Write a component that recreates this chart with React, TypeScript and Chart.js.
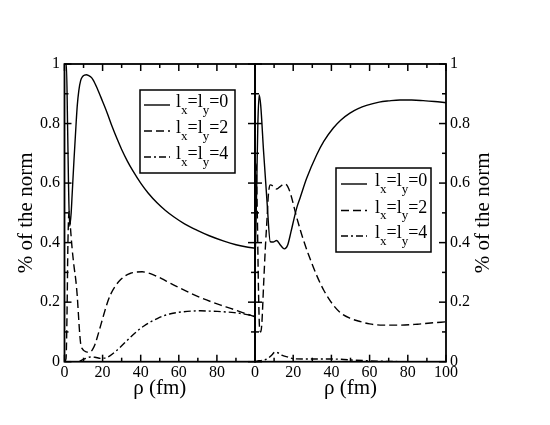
import { useEffect, useRef } from "react";
import Chart from "chart.js/auto";

// axes
const rhoTicks = [0, 20, 40, 60, 80, 100];
const rhoMinor = [10, 30, 50, 70, 90];
const normTicks = [0, 0.2, 0.4, 0.6, 0.8, 1];
const normMinor = [0.1, 0.3, 0.5, 0.7, 0.9];
const lValues = [0, 2, 4];

// left panel
const leftRho0 = [0, 1, 1.6, 2.1, 2.7, 3.5, 4, 5, 6, 6.7, 7.5, 8.5, 9.5, 10.5, 11.5, 12.5, 13.7, 15, 17.2, 20, 22.5, 25, 27.7, 30, 33, 36, 40, 44, 48.7, 53, 57.5, 63, 69.7, 76, 83.7, 90, 95, 100];
const leftNorm0 = [1.0, 1.0, 0.8, 0.6, 0.455, 0.5, 0.56, 0.68, 0.79, 0.86, 0.91, 0.945, 0.958, 0.963, 0.964, 0.962, 0.957, 0.947, 0.918, 0.874, 0.834, 0.79, 0.747, 0.713, 0.674, 0.64, 0.6, 0.566, 0.533, 0.508, 0.486, 0.463, 0.441, 0.423, 0.405, 0.393, 0.386, 0.381];
const leftRho2 = [0, 0.8, 1.3, 1.8, 2.4, 3, 4, 5, 6, 6.7, 7.3, 7.8, 8.5, 9.5, 10.5, 12, 13.5, 14.6, 16, 17.2, 19, 20.7, 22.5, 24.2, 27, 29.5, 32, 34.7, 37.5, 40.8, 44, 47, 51, 55.7, 61, 66.2, 71.5, 76.7, 82, 87.2, 93.5, 100];
const leftNorm2 = [0, 0.01, 0.15, 0.4, 0.505, 0.46, 0.38, 0.32, 0.27, 0.22, 0.16, 0.11, 0.06, 0.042, 0.036, 0.032, 0.033, 0.04, 0.058, 0.082, 0.122, 0.16, 0.198, 0.226, 0.257, 0.276, 0.289, 0.297, 0.301, 0.302, 0.298, 0.291, 0.279, 0.263, 0.246, 0.23, 0.215, 0.202, 0.19, 0.179, 0.165, 0.151];
const leftRho4 = [0, 5, 8, 9.3, 11.5, 13.7, 16, 19, 21, 23.4, 26.5, 29.5, 32, 34.7, 38, 41.7, 45, 48.7, 52, 55.7, 59, 62.7, 67, 71.5, 76, 80.2, 85, 89, 94.5, 100];
const leftNorm4 = [0, 0, 0.002, 0.006, 0.012, 0.016, 0.015, 0.011, 0.012, 0.018, 0.033, 0.05, 0.066, 0.083, 0.102, 0.12, 0.133, 0.145, 0.154, 0.161, 0.165, 0.168, 0.17, 0.171, 0.17, 0.169, 0.167, 0.165, 0.16, 0.153];

// right panel
const rightRho0 = [0, 0.5, 1, 1.5, 2.2, 3, 4.5, 6.3, 8, 9.5, 11.3, 13.5, 15.4, 17, 18.8, 20.6, 22, 23.6, 27, 32.3, 36, 41, 45, 49.7, 54, 58.4, 65, 70, 75.9, 82, 88, 94, 100];
const rightNorm0 = [0.336, 0.45, 0.63, 0.8, 0.896, 0.86, 0.705, 0.537, 0.403, 0.402, 0.407, 0.39, 0.379, 0.39, 0.435, 0.485, 0.52, 0.55, 0.615, 0.695, 0.74, 0.785, 0.812, 0.835, 0.85, 0.861, 0.872, 0.876, 0.879, 0.879, 0.877, 0.874, 0.87];
const rightRho2 = [0, 0.6, 1.2, 1.8, 2.4, 3, 3.6, 4.5, 5.4, 6.3, 7, 8, 9.5, 11.3, 13.5, 15.4, 17, 18.8, 21.4, 23.6, 25.3, 28, 32.3, 36, 41, 45, 49.7, 55, 60, 67, 75.9, 85, 92, 100];
const rightNorm2 = [0.667, 0.66, 0.5, 0.25, 0.112, 0.1, 0.13, 0.258, 0.38, 0.48, 0.56, 0.594, 0.59, 0.58, 0.59, 0.597, 0.59, 0.56, 0.495, 0.445, 0.41, 0.36, 0.29, 0.24, 0.19, 0.163, 0.146, 0.135, 0.127, 0.123, 0.123, 0.126, 0.13, 0.134];
const rightRho4 = [0, 2, 4.4, 7, 8.7, 10.5, 12, 14, 17.5, 20, 30, 40, 45, 52, 60, 70, 80, 100];
const rightNorm4 = [0, 0.003, 0.005, 0.012, 0.022, 0.032, 0.03, 0.022, 0.015, 0.01, 0.009, 0.009, 0.008, 0.005, 0.003, 0.001, 0, 0];

const SERIF = "'Liberation Serif', 'Times New Roman', serif";
const PAGE_W = 550;
const PAGE_H = 425;
const PLOT_TOP = 64;
const PLOT_BOTTOM = 361.7;
const PLOT_LEFT = 64.5;
const PLOT_SPLIT = 255;
const PLOT_RIGHT = 446;
const YTITLE = "% of the norm";

const dashes = [[], [8, 4], [7, 3, 2, 3]];

interface LegendBox {
  x: number;
  y: number;
  w: number;
  h: number;
  rows: number[];
  sampleX: number;
  textX: number;
}

interface PanelProps {
  side: "left" | "right";
  canvasLeft: number;
  canvasWidth: number;
  rhos: number[][];
  norms: number[][];
  legend: LegendBox;
}

const Panel: React.FC<PanelProps> = ({ side, canvasLeft, canvasWidth, rhos, norms, legend }) => {
  const canvasRef = useRef<HTMLCanvasElement>(null);
  const chartRef = useRef<Chart | null>(null);

  useEffect(() => {
    if (!canvasRef.current) return;
    if (chartRef.current) chartRef.current.destroy();

    // ticks pointing inward on all four sides + frame
    const frameTicks = {
      id: "frameTicks",
      afterDatasetsDraw(chart: any) {
        const { ctx, chartArea: a, scales } = chart;
        ctx.save();
        ctx.strokeStyle = "#000";
        ctx.setLineDash([]);
        ctx.lineWidth = 1.5;
        const seg = (x1: number, y1: number, x2: number, y2: number) => {
          ctx.beginPath();
          ctx.moveTo(x1, y1);
          ctx.lineTo(x2, y2);
          ctx.stroke();
        };
        const xs = [...rhoTicks.map((v) => [v, 7]), ...rhoMinor.map((v) => [v, 4])];
        xs.forEach(([v, len]) => {
          const px = scales.x.getPixelForValue(v);
          seg(px, a.bottom, px, a.bottom - len);
          seg(px, a.top, px, a.top + len);
        });
        const ys = [...normTicks.map((v) => [v, 7]), ...normMinor.map((v) => [v, 4])];
        ys.forEach(([v, len]) => {
          const py = scales.y.getPixelForValue(v);
          seg(a.left, py, a.left + len, py);
          seg(a.right, py, a.right - len, py);
        });
        ctx.lineWidth = 1.8;
        ctx.strokeRect(a.left, a.top, a.right - a.left, a.bottom - a.top);
        ctx.restore();
      },
    };

    const legendPlugin = {
      id: "panelLegend",
      afterDraw(chart: any) {
        const { ctx } = chart;
        const bx = legend.x - canvasLeft;
        ctx.save();
        ctx.fillStyle = "#fff";
        ctx.fillRect(bx, legend.y, legend.w, legend.h);
        ctx.strokeStyle = "#000";
        ctx.lineWidth = 1.5;
        ctx.setLineDash([]);
        ctx.strokeRect(bx, legend.y, legend.w, legend.h);
        chart.data.datasets.forEach((ds: any, i: number) => {
          const y = legend.rows[i];
          ctx.lineWidth = 1.4;
          ctx.setLineDash(ds.borderDash || []);
          ctx.beginPath();
          ctx.moveTo(legend.sampleX - canvasLeft, y);
          ctx.lineTo(legend.sampleX - canvasLeft + 26, y);
          ctx.stroke();
          ctx.setLineDash([]);
          ctx.fillStyle = "#000";
          ctx.textBaseline = "alphabetic";
          ctx.textAlign = "left";
          const parts: [string, boolean][] = [
            ["l", false],
            ["x", true],
            ["=l", false],
            ["y", true],
            ["=" + lValues[i], false],
          ];
          let x = legend.textX - canvasLeft;
          parts.forEach(([t, sub]) => {
            ctx.font = sub ? `13px ${SERIF}` : `18px ${SERIF}`;
            ctx.fillText(t, x, sub ? y + 8.5 : y + 2);
            x += ctx.measureText(t).width;
          });
        });
        ctx.restore();
      },
    };

    // right-hand y title reads bottom-to-top like the left one
    const rightTitle = {
      id: "rightTitle",
      afterDraw(chart: any) {
        if (side !== "right") return;
        const { ctx } = chart;
        ctx.save();
        ctx.translate(483.4 - canvasLeft, (PLOT_TOP + PLOT_BOTTOM) / 2);
        ctx.rotate(-Math.PI / 2);
        ctx.font = `21px ${SERIF}`;
        ctx.fillStyle = "#000";
        ctx.textAlign = "center";
        ctx.textBaseline = "middle";
        ctx.fillText(YTITLE, 0, 0);
        ctx.restore();
      },
    };

    const tickFont = { family: SERIF, size: 16 };
    const titleFont = { family: SERIF, size: 21 };

    chartRef.current = new Chart(canvasRef.current, {
      type: "line",
      data: {
        datasets: rhos.map((r, i) => ({
          label: `lx=ly=${lValues[i]}`,
          data: r.map((v, j) => ({ x: v, y: norms[i][j] })),
          borderColor: "#000",
          borderWidth: 1.4,
          borderDash: dashes[i],
          pointRadius: 0,
          fill: false,
          cubicInterpolationMode: "monotone" as const,
        })),
      },
      options: {
        responsive: false,
        animation: false,
        layout: {
          padding:
            side === "left"
              ? { top: PLOT_TOP, left: 0, right: canvasWidth - PLOT_SPLIT, bottom: 0 }
              : { top: PLOT_TOP, left: PLOT_SPLIT - canvasLeft, right: 0, bottom: 0 },
        },
        plugins: { legend: { display: false }, tooltip: { enabled: false } },
        scales: {
          x: {
            type: "linear",
            min: 0,
            max: 100,
            afterBuildTicks: (s: any) => {
              s.ticks = rhoTicks.map((v) => ({ value: v }));
            },
            afterFit: (s: any) => {
              s.height = PAGE_H - PLOT_BOTTOM;
            },
            ticks: {
              callback: (v: any) => (side === "left" && v === 100 ? "" : String(v)),
              font: tickFont,
              color: "#000",
              padding: 1,
              autoSkip: false,
              maxRotation: 0,
            },
            grid: { display: false, drawTicks: false },
            border: { display: false },
            title: {
              display: true,
              text: "ρ (fm)",
              font: titleFont,
              color: "#000",
              padding: { top: 0, bottom: 23.8 },
            },
          },
          y: {
            type: "linear",
            position: side,
            min: 0,
            max: 1,
            afterBuildTicks: (s: any) => {
              s.ticks = normTicks.map((v) => ({ value: v }));
            },
            afterFit: (s: any) => {
              s.width = side === "left" ? PLOT_LEFT : PAGE_W - PLOT_RIGHT;
            },
            ticks: {
              callback: (v: any) => String(v),
              font: tickFont,
              color: "#000",
              padding: side === "left" ? 4.5 : 4,
            },
            grid: { display: false, drawTicks: false },
            border: { display: false },
            title: {
              display: side === "left",
              text: YTITLE,
              font: titleFont,
              color: "#000",
              padding: { top: 14, bottom: 0 },
            },
          },
        },
      },
      plugins: [frameTicks, legendPlugin, rightTitle],
    });

    return () => {
      if (chartRef.current) {
        chartRef.current.destroy();
        chartRef.current = null;
      }
    };
  }, []);

  return (
    <canvas
      ref={canvasRef}
      width={canvasWidth}
      height={PAGE_H}
      style={{ position: "absolute", left: canvasLeft, top: 0 }}
    />
  );
};

export default function App() {
  return (
    <div
      style={{
        position: "absolute",
        left: 0,
        top: 0,
        width: PAGE_W,
        height: PAGE_H,
        background: "#fff",
        overflow: "hidden",
      }}
    >
      <Panel
        side="left"
        canvasLeft={0}
        canvasWidth={262}
        rhos={[leftRho0, leftRho2, leftRho4]}
        norms={[leftNorm0, leftNorm2, leftNorm4]}
        legend={{ x: 140, y: 90, w: 95, h: 83, rows: [105, 131, 157], sampleX: 144, textX: 176 }}
      />
      <Panel
        side="right"
        canvasLeft={200}
        canvasWidth={350}
        rhos={[rightRho0, rightRho2, rightRho4]}
        norms={[rightNorm0, rightNorm2, rightNorm4]}
        legend={{ x: 336, y: 168, w: 95, h: 84, rows: [184, 210.5, 236], sampleX: 341, textX: 375 }}
      />
    </div>
  );
}
